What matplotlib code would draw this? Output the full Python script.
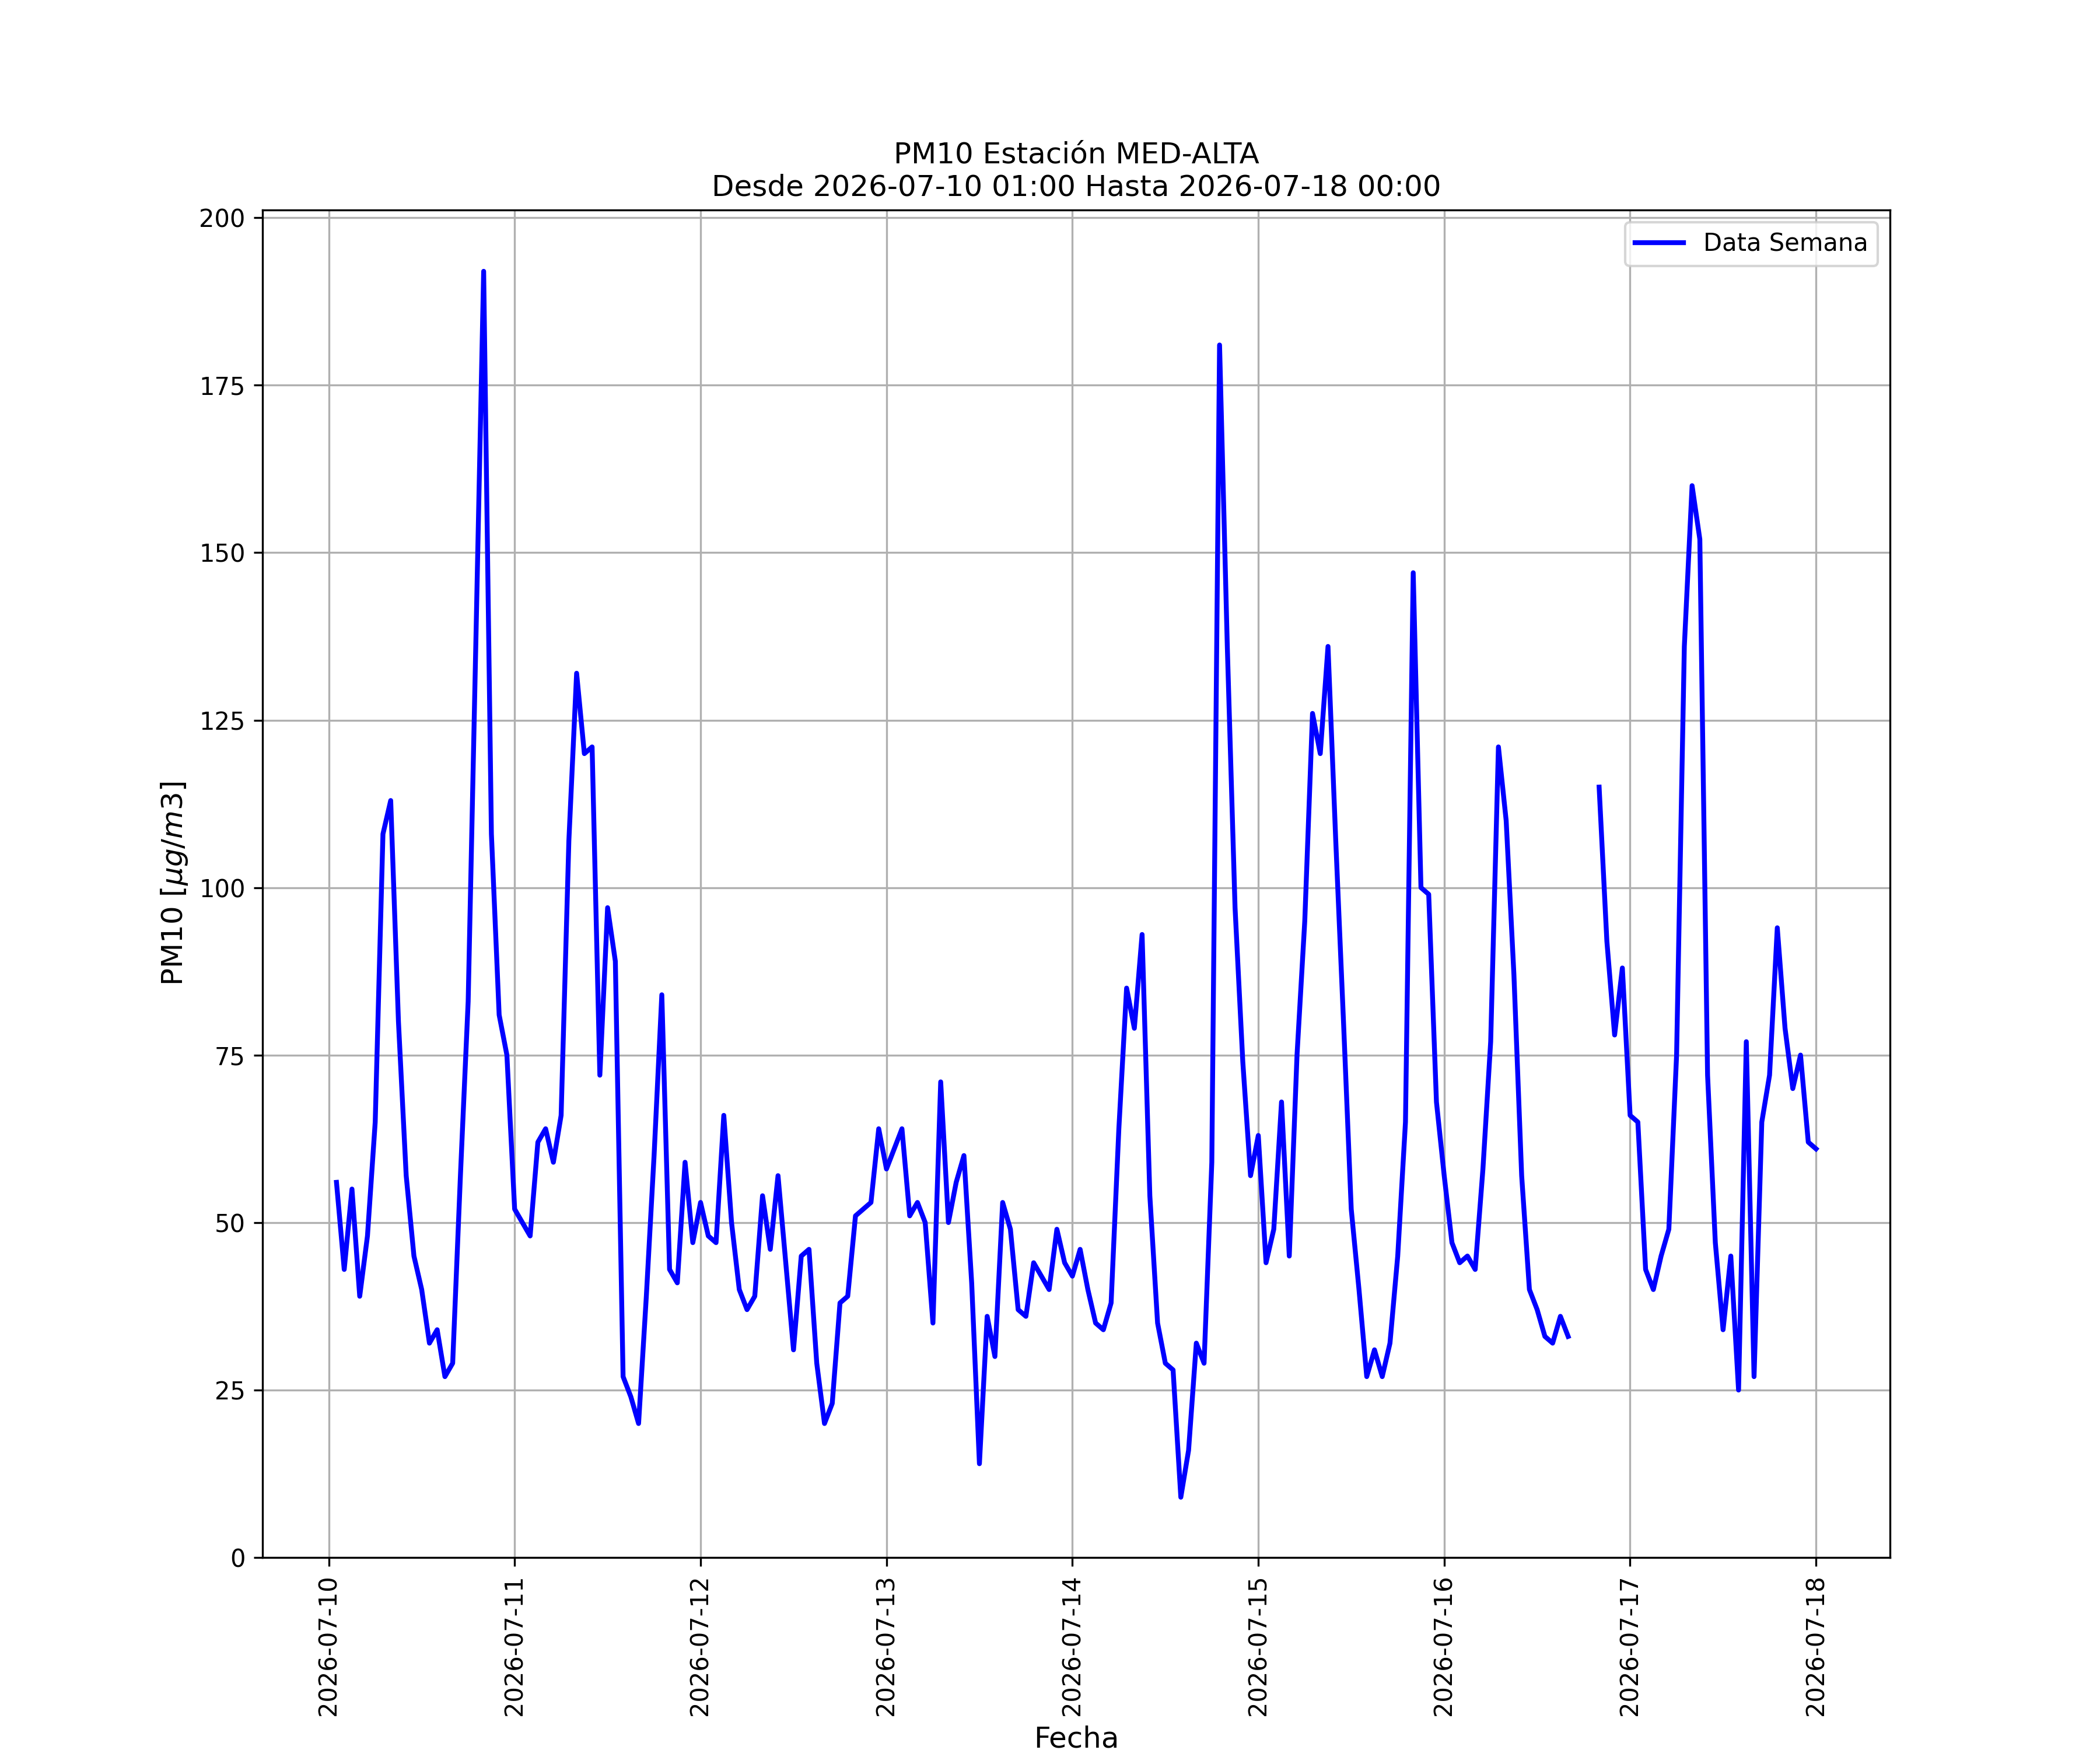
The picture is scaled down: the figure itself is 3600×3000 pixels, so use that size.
import numpy as np
import pandas as pd
import matplotlib
matplotlib.use("Agg")
import matplotlib.pyplot as plt
import matplotlib.dates as mdates

start_time = "2026-07-10 01:00"
end_time = "2026-07-18 00:00"
station = "MED-ALTA"
nan = np.nan

pm10_values = [
    56, 43, 55, 39, 48, 65, 108, 113, 80, 57, 45, 40, 32, 34, 27, 29, 57, 83, 137, 192, 108, 81, 75, 52,
    50, 48, 62, 64, 59, 66, 107, 132, 120, 121, 72, 97, 89, 27, 24, 20, 39, 60, 84, 43, 41, 59, 47, 53,
    48, 47, 66, 50, 40, 37, 39, 54, 46, 57, 44, 31, 45, 46, 29, 20, 23, 38, 39, 51, 52, 53, 64, 58,
    61, 64, 51, 53, 50, 35, 71, 50, 56, 60, 41, 14, 36, 30, 53, 49, 37, 36, 44, 42, 40, 49, 44, 42,
    46, 40, 35, 34, 38, 64, 85, 79, 93, 54, 35, 29, 28, 9, 16, 32, 29, 59, 181, 136, 97, 74, 57, 63,
    44, 49, 68, 45, 75, 95, 126, 120, 136, 107, 80, 52, 40, 27, 31, 27, 32, 45, 65, 147, 100, 99, 68, 57,
    47, 44, 45, 43, 58, 77, 121, 110, 87, 57, 40, 37, 33, 32, 36, 33, nan, nan, nan, 115, 92, 78, 88, 66,
    65, 43, 40, 45, 49, 75, 136, 160, 152, 72, 47, 34, 45, 25, 77, 27, 65, 72, 94, 79, 70, 75, 62, 61,
]

times = pd.date_range(start_time, periods=len(pm10_values), freq="h")

fig, ax = plt.subplots(figsize=(12, 10), dpi=300)
ax.plot(times, pm10_values, color="blue", linewidth=2, label="Data Semana")
ax.set_ylim(bottom=0)

ax.xaxis.set_major_locator(mdates.DayLocator())
ax.xaxis.set_major_formatter(mdates.DateFormatter("%Y-%m-%d"))
plt.setp(ax.get_xticklabels(), rotation=90)

ax.grid(True)
ax.legend(loc="upper right")
ax.set_title(f"PM10 Estación {station}\nDesde {start_time} Hasta {end_time}", fontsize=12)
ax.set_xlabel("Fecha", fontsize=12)
ax.set_ylabel(r"PM10 [$\mu g/m3$]", fontsize=12)

fig.savefig("out.png", dpi=300)
